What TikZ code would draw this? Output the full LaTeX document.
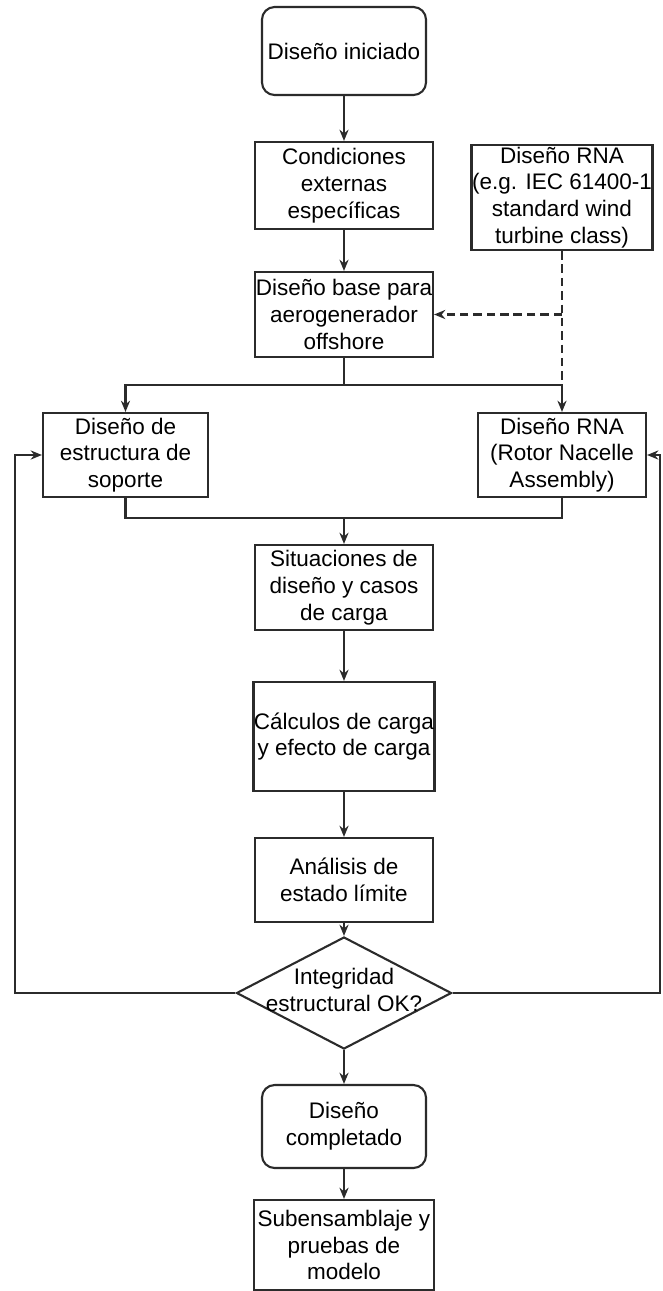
\documentclass[tikz,border=0pt]{standalone}
\usepackage{fontspec}
\setmainfont{Liberation Sans}
\usetikzlibrary{arrows.meta, positioning, shapes.geometric, calc}
\definecolor{cline}{HTML}{2B2B2B}
\tikzset{
  every picture/.style={line width=1.5pt},
  box/.style={draw=cline, align=center, inner sep=0pt, minimum width=4.45cm, minimum height=2.15cm, font=\fontsize{16}{19}\selectfont},
  term/.style={box, rounded corners=9pt, minimum width=4.1cm},
  decision/.style={draw=cline, diamond, minimum width=5.375cm, minimum height=2.8cm, inner sep=0pt},
  label/.style={align=center, inner sep=0pt, font=\fontsize{16}{19}\selectfont},
  arrow/.style={-{Stealth[length=8pt, width=6.5pt]}, draw=cline},
  dashline/.style={draw=cline, dash pattern=on 6pt off 3.5pt},
  dasharrow/.style={arrow, dash pattern=on 6pt off 3.5pt},
}

\begin{document}
\begin{tikzpicture}[x=0.025cm, y=-0.025cm]
  \useasboundingbox (0,0) rectangle (663,1291);
  % main column
  \node[term, minimum height=2.2cm] (start) at (344,51) {Diseño iniciado};
  \node[box, minimum height=2.175cm] (cond) at (344,185.5) {Condiciones\\externas\\específicas};
  \node[box, minimum width=4.525cm, minimum height=2.625cm] (rnastd) at (562,197.5) {Diseño RNA\\(e.g. IEC 61400-1\\standard wind\\turbine class)};
  \node[box, minimum height=2.125cm] (base) at (344,314.5) {Diseño base para\\aerogenerador\\offshore};
  \node[box, minimum width=4.125cm, minimum height=2.1cm] (soporte) at (125.5,455) {Diseño de\\estructura de\\soporte};
  \node[box, minimum width=4.2cm, minimum height=2.1cm] (rna) at (562,455) {Diseño RNA\\(Rotor Nacelle\\Assembly)};
  \node[box, minimum height=2.125cm] (sit) at (344,587.5) {Situaciones de\\diseño y casos\\de carga};
  \node[box, minimum width=4.525cm, minimum height=2.725cm] (calc) at (344,736.5) {Cálculos de carga\\y efecto de carga};
  \node[box, minimum height=2.1cm] (anal) at (344,880) {Análisis de\\estado límite};
  \node[decision] (check) at (344,993) {};
  \node[label] (checklbl) at (344,990) {Integridad\\estructural OK?};
  \node[term, minimum height=2.075cm] (comp) at (344,1126.5) {Diseño\\completado};
  \node[box, minimum width=4.5cm, minimum height=2.25cm] (sub) at (344,1245) {Subensamblaje y\\pruebas de\\modelo};

  \coordinate (split) at (344,385);
  \coordinate (join) at (344,518);
  \coordinate (leftrail) at (15,993);
  \coordinate (rightrail) at (660,993);

  \draw[arrow] (start) -- (cond);
  \draw[arrow] (cond) -- (base);
  \draw[dashline] (rnastd.south) -- (rnastd.south |- split);
  \draw[dasharrow] (rnastd.south |- base.east) -- (base.east);
  \draw[cline] (base) -- (split);
  \draw[arrow] (split) -| (soporte.north);
  \draw[arrow] (split) -| (rna.north);
  \draw[cline] (soporte.south) |- (join) -| (rna.south);
  \draw[arrow] (join) -- (sit);
  \draw[arrow] (sit) -- (calc);
  \draw[arrow] (calc) -- (anal);
  \draw[arrow] (anal) -- (check);
  \draw[arrow] (check) -- (comp);
  \draw[arrow] (comp) -- (sub);
  % feedback loops
  \draw[arrow] (check.west) -- (leftrail) |- (soporte.west);
  \draw[arrow] (check.east) -- (rightrail) |- (rna.east);
\end{tikzpicture}
\end{document}
